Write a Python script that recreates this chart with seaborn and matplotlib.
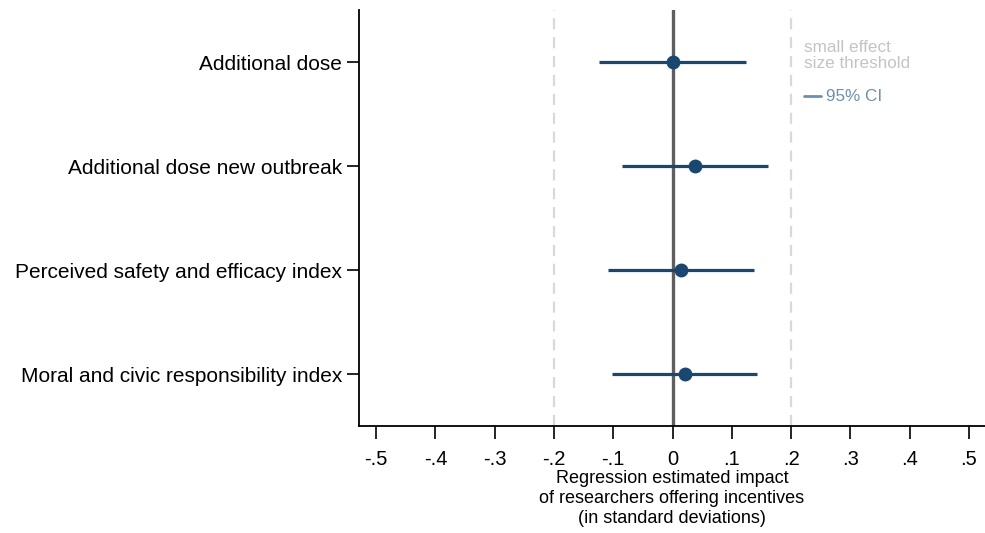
import matplotlib
matplotlib.use("Agg")
import matplotlib.pyplot as plt
import seaborn as sns
import pandas as pd

# Outcomes and estimated effects (standard deviations) with 95% CIs
outcomes = [
    "Additional dose",
    "Additional dose new outbreak",
    "Perceived safety and efficacy index",
    "Moral and civic responsibility index",
]
estimates = [0.000, 0.038, 0.014, 0.021]
ci_low = [-0.124, -0.085, -0.109, -0.102]
ci_high = [0.123, 0.161, 0.137, 0.143]
tick_values = [-0.5, -0.4, -0.3, -0.2, -0.1, 0.0, 0.1, 0.2, 0.3, 0.4, 0.5]
tick_labels = ["-.5", "-.4", "-.3", "-.2", "-.1", "0", ".1", ".2", ".3", ".4", ".5"]
threshold = 0.2

df = pd.DataFrame({"outcome": outcomes, "est": estimates, "lo": ci_low, "hi": ci_high})
df["pos"] = range(len(df))

sns.set_theme(style="white")
plt.rcParams["font.family"] = ["Liberation Sans", "DejaVu Sans"]

navy = "#1a476f"
fig = plt.figure(figsize=(9.85, 5.33), dpi=100)
ax = fig.add_axes([359 / 985, 1 - 426 / 533, 1 - 359 / 985, (426 - 10) / 533])

# small-effect threshold lines and zero reference
for t in (-threshold, threshold):
    ax.axvline(t, color="#d9d9d9", lw=1.6, ls=(0, (5, 3.5)), zorder=1)
ax.axvline(0, color="#5f5f5f", lw=2.4, zorder=2)

# confidence intervals and point estimates
ax.hlines(df["pos"], df["lo"], df["hi"], color=navy, lw=2.3, zorder=3)
sns.scatterplot(data=df, x="est", y="pos", ax=ax, color=navy, s=100,
                edgecolor=navy, linewidth=0, zorder=4, legend=False)

ax.set_xlim(-0.529, 0.527)
ax.set_ylim(3.5, -0.5)
ax.set_xticks(tick_values)
ax.set_xticklabels(tick_labels, fontsize=14.5)
ax.set_yticks(df["pos"])
ax.set_yticklabels(df["outcome"], fontsize=15)
ax.tick_params(axis="both", which="both", direction="out", length=9, width=1.2,
               color="black", bottom=True, left=True, labelcolor="black")
ax.tick_params(axis="x", pad=8)
ax.tick_params(axis="y", pad=3)
for side in ("top", "right"):
    ax.spines[side].set_visible(False)
for side in ("left", "bottom"):
    ax.spines[side].set_color("black")
    ax.spines[side].set_linewidth(1.3)
ax.set_xlabel("Regression estimated impact\nof researchers offering incentives\n(in standard deviations)",
              fontsize=13, labelpad=1, linespacing=1.22, color="black")
ax.set_ylabel("")

# annotations to the right of the threshold
note_color = "#c4c4c4"
ax.text(0.222, -0.099, "small effect", color=note_color, fontsize=12.3, va="baseline", ha="left")
ax.text(0.222, 0.058, "size threshold", color=note_color, fontsize=12.3, va="baseline", ha="left")
ax.plot([0.221, 0.251], [0.328, 0.328], color="#6e8fb0", lw=2, clip_on=False)
ax.text(0.258, 0.328, "95% CI", color="#6e8fb0", fontsize=12.3, va="center", ha="left")

fig.savefig("out.png", dpi=100)
